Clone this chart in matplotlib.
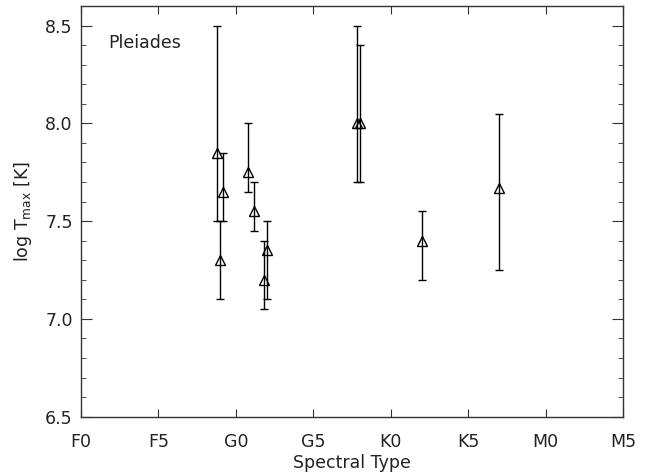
"""Max flare temperature vs spectral type for Pleiades stars"""
import matplotlib
matplotlib.use("Agg")
import matplotlib.pyplot as plt
from matplotlib.ticker import MultipleLocator

# spectral type as number: F0=0, F5=5, G0=10, G5=15, K0=20, K5=25, M0=30, M5=35
spt = [8.8, 9.0, 9.2, 10.8, 11.2, 11.8, 12.0, 17.8, 18.0, 22.0, 27.0]
log_tmax = [7.85, 7.30, 7.65, 7.75, 7.55, 7.20, 7.35, 8.00, 8.00, 7.40, 7.67]
err_lo = [7.50, 7.10, 7.50, 7.65, 7.45, 7.05, 7.10, 7.70, 7.70, 7.20, 7.25]
err_hi = [8.50, 7.50, 7.85, 8.00, 7.70, 7.40, 7.50, 8.50, 8.40, 7.55, 8.05]

tick_pos = [0, 5, 10, 15, 20, 25, 30, 35]
tick_labels = ["F0", "F5", "G0", "G5", "K0", "K5", "M0", "M5"]


def plot_tmax():
    plt.rcParams["font.family"] = "DejaVu Sans"
    plt.rcParams["text.color"] = "#222222"
    plt.rcParams["xtick.labelcolor"] = "#222222"
    plt.rcParams["ytick.labelcolor"] = "#222222"
    plt.rcParams["axes.labelcolor"] = "#222222"
    fig = plt.figure(figsize=(6.46, 4.76), dpi=100)
    ax = fig.add_axes([81 / 646, 1 - 416.7 / 476, 542 / 646, 410.7 / 476])

    yerr = [[t - lo for t, lo in zip(log_tmax, err_lo)],
            [hi - t for t, hi in zip(log_tmax, err_hi)]]
    ax.errorbar(spt, log_tmax, yerr=yerr, fmt="^", color="black",
                mfc="none", mec="black", ms=7.5, mew=1.0,
                elinewidth=1.0, capsize=3, capthick=1.0)

    ax.set_xlim(0, 35)
    ax.set_ylim(6.5, 8.6)
    ax.set_xticks(tick_pos)
    ax.set_xticklabels(tick_labels)
    ax.yaxis.set_major_locator(MultipleLocator(0.5))
    ax.yaxis.set_minor_locator(MultipleLocator(0.1))
    ax.yaxis.set_major_formatter(plt.FormatStrFormatter("%.1f"))

    ax.tick_params(axis="x", which="major", direction="in", length=6,
                   top=True, pad=12, labelsize=12.5, color="#333333")
    ax.tick_params(axis="y", which="major", direction="in", length=7.8,
                   right=True, pad=6, labelsize=12.5, color="#333333")
    ax.tick_params(axis="y", which="minor", direction="in", length=3.9,
                   right=True, color="#333333")
    for sp in ax.spines.values():
        sp.set_linewidth(1.0)
        sp.set_color("#333333")

    ax.set_xlabel("Spectral Type", fontsize=12.5, labelpad=2)
    ax.set_ylabel(r"log T$_{\rm max}$ [K]", fontsize=12.5, labelpad=8)
    ax.text(0.05, 8.41, "Pleiades", transform=ax.get_yaxis_transform(),
            fontsize=12.5, va="center", ha="left")

    fig.savefig("out.png", dpi=100)


if __name__ == "__main__":
    plot_tmax()
